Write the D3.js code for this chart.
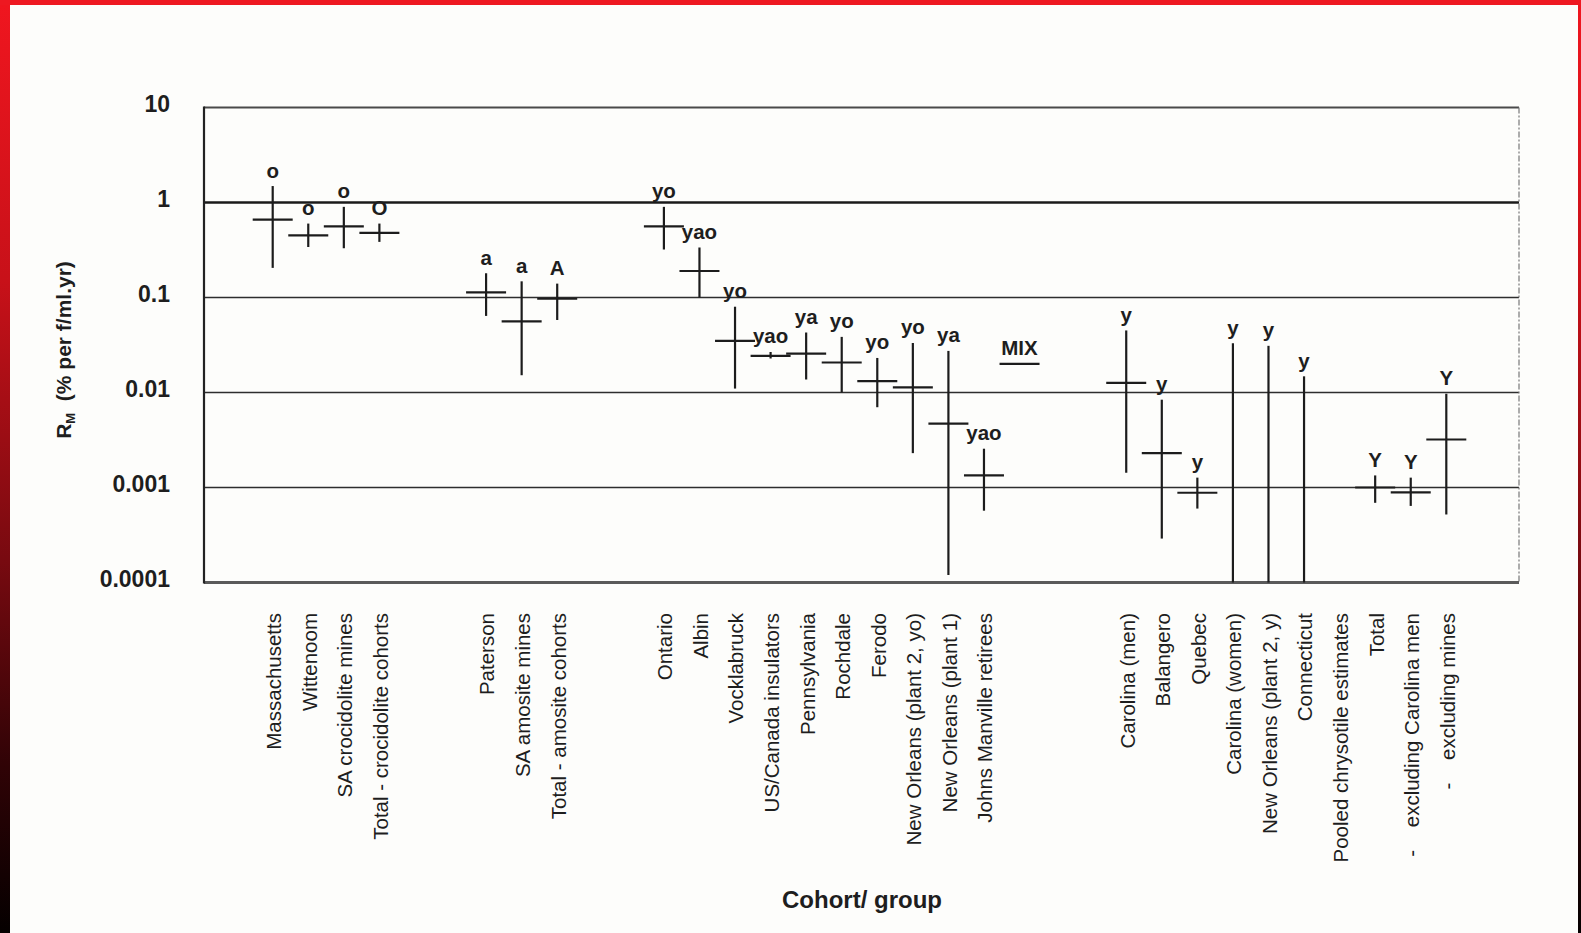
<!DOCTYPE html>
<html>
<head>
<meta charset="utf-8">
<script src="https://cdn.jsdelivr.net/npm/d3@7"></script>
<style>
  html, body { margin: 0; padding: 0; background: #fdfdfb; }
  svg { display: block; }
  text { font-family: "Liberation Sans", Arial, Helvetica, sans-serif; fill: #1e1e1e; }
</style>
</head>
<body>
<svg id="chart" width="1581" height="933"></svg>
<script>
// Cohorts along the x axis; empty strings leave a blank slot between fibre groups
const cohorts = [
  "Massachusetts", "Wittenoom", "SA crocidolite mines", "Total - crocidolite cohorts", "", "",
  "Paterson", "SA amosite mines", "Total - amosite cohorts", "", "",
  "Ontario", "Albin", "Vocklabruck", "US/Canada insulators", "Pennsylvania", "Rochdale",
  "Ferodo", "New Orleans (plant 2, yo)", "New Orleans (plant 1)", "Johns Manville retirees", "", "", "",
  "Carolina (men)", "Balangero", "Quebec", "Carolina (women)", "New Orleans (plant 2, y)",
  "Connecticut", "Pooled chrysotile estimates", "Total", "-    excluding Carolina men", "-    excluding mines"
];

// R_M point estimates (% per f/ml.yr)
const estimate = [
  0.66, 0.45, 0.56, 0.48, null, null,
  0.113, 0.056, 0.097, null, null,
  0.56, 0.19, 0.035, 0.0243, 0.0257, 0.0207,
  0.0132, 0.0113, 0.0047, 0.00134, 0.02, null, null,
  0.0126, 0.0023, 0.00088, null, null,
  null, null, 0.001, 0.00089, 0.0032
];

// Lower confidence limits (0.0001 = runs down to the axis floor)
const lower = [
  0.205, 0.34, 0.33, 0.385, null, null,
  0.064, 0.0152, 0.058, null, null,
  0.32, 0.10, 0.011, 0.0228, 0.0137, 0.0100,
  0.0070, 0.0023, 0.00012, 0.00057, null, null, null,
  0.00143, 0.00029, 0.0006, 0.0001, 0.0001,
  0.0001, null, 0.00069, 0.00064, 0.00052
];

// Upper confidence limits
const upper = [
  1.49, 0.60, 0.90, 0.60, null, null,
  0.18, 0.148, 0.14, null, null,
  0.90, 0.336, 0.080, 0.0267, 0.0428, 0.0385,
  0.0231, 0.0332, 0.0274, 0.00256, null, null, null,
  0.045, 0.0084, 0.00127, 0.033, 0.031,
  0.0148, null, 0.00134, 0.00127, 0.0097
];

// Fibre-type codes printed above each estimate
const fibreTypes = [
  "o", "o", "o", "O", "", "",
  "a", "a", "A", "", "",
  "yo", "yao", "yo", "yao", "ya", "yo",
  "yo", "yo", "ya", "yao", "MIX", "", "",
  "y", "y", "y", "y", "y",
  "y", "", "Y", "Y", "Y"
];

const yTickValues = [10, 1, 0.1, 0.01, 0.001, 0.0001];
const yTickLabels = ["10", "1", "0.1", "0.01", "0.001", "0.0001"];
const yTitle = ["R", "M", "  (% per f/ml.yr)"];
const xTitle = "Cohort/ group";

// ---- layout ----
const W = 1581, H = 933;
const plot = { left: 204, right: 1519, top: 107.5, bottom: 582.5 };
const ink = "#1c1c1c";

const svg = d3.select("#chart");

// page background and the framed border
const defs = svg.append("defs");
const grad = defs.append("linearGradient")
  .attr("id", "edgeFade").attr("x1", 0).attr("y1", 0).attr("x2", 0).attr("y2", 1);
[[0, "#f0161f"], [0.3, "#c81119"], [0.6, "#780a10"], [0.82, "#300306"], [1, "#050000"]]
  .forEach(([o, c]) => grad.append("stop").attr("offset", o).attr("stop-color", c));

svg.append("rect").attr("width", W).attr("height", H).attr("fill", "#fdfdfb");
svg.append("rect").attr("x", 0).attr("y", 0).attr("width", 10).attr("height", H).attr("fill", "url(#edgeFade)");
svg.append("rect").attr("x", W - 3).attr("y", 0).attr("width", 3).attr("height", H).attr("fill", "url(#edgeFade)");
svg.append("rect").attr("x", 0).attr("y", 0).attr("width", W).attr("height", 5).attr("fill", "#ee1821");

// scales
const y = d3.scaleLog().domain([0.0001, 10]).range([plot.bottom, plot.top]);
const x = d3.scalePoint().domain(d3.range(cohorts.length)).range([272.7, 1446.3]);

// horizontal reference lines at each decade
const g = svg.append("g");
g.selectAll("line.grid")
  .data(yTickValues.filter(v => v > 0.0001 && v < 10))
  .join("line")
  .attr("class", "grid")
  .attr("x1", plot.left).attr("x2", plot.right)
  .attr("y1", d => y(d)).attr("y2", d => y(d))
  .attr("stroke", d => d === 1 ? "#1a1a1a" : "#2e2e2e")
  .attr("stroke-width", d => d === 1 ? 2.4 : 1.3);

// frame
g.append("line").attr("x1", plot.left).attr("x2", plot.right).attr("y1", plot.top).attr("y2", plot.top)
  .attr("stroke", "#4a4a4a").attr("stroke-width", 1.8);
g.append("line").attr("x1", plot.right).attr("x2", plot.right).attr("y1", plot.top).attr("y2", plot.bottom)
  .attr("stroke", "#777").attr("stroke-width", 1.2).attr("stroke-dasharray", "6,2,2,2");
g.append("line").attr("x1", plot.left).attr("x2", plot.right).attr("y1", plot.bottom).attr("y2", plot.bottom)
  .attr("stroke", "#5a5a5a").attr("stroke-width", 2.8);
g.append("line").attr("x1", plot.left).attr("x2", plot.left).attr("y1", plot.top - 1).attr("y2", plot.bottom + 1)
  .attr("stroke", "#222").attr("stroke-width", 2.2);

// y axis tick labels
const yAxis = d3.axisLeft(y)
  .tickValues(yTickValues)
  .tickFormat((d, i) => yTickLabels[i])
  .tickSize(0).tickPadding(0);
const ya = svg.append("g").attr("transform", "translate(170,0)").call(yAxis);
ya.select(".domain").remove();
ya.selectAll("text")
  .attr("dy", "0.16em")
  .style("font-size", "23px").style("font-weight", "bold")
  .style("font-family", "\"Liberation Sans\", Arial, sans-serif")
  .attr("fill", "#1e1e1e");

// y axis title
const yt = svg.append("text")
  .attr("transform", "translate(71,350) rotate(-90)")
  .attr("text-anchor", "middle")
  .style("font-size", "21px").style("font-weight", "bold")
  .style("white-space", "pre");
yt.append("tspan").text(yTitle[0]);
yt.append("tspan").attr("dy", 4).style("font-size", "13px").text(yTitle[1]);
yt.append("tspan").attr("dy", -4).text(yTitle[2]);

// cohort labels, reading upward
svg.append("g").selectAll("text")
  .data(cohorts.map((c, i) => ({ c, i })).filter(d => d.c !== ""))
  .join("text")
  .attr("transform", d => `translate(${x(d.i) + 1},613) rotate(-90)`)
  .attr("text-anchor", "end")
  .attr("dy", "0.36em")
  .style("font-size", "20.5px")
  .style("white-space", "pre")
  .text(d => d.c);

// x axis title
svg.append("text")
  .attr("x", 862).attr("y", 908)
  .attr("text-anchor", "middle")
  .style("font-size", "24px").style("font-weight", "bold")
  .text(xTitle);

// estimates with their confidence ranges
const rows = cohorts.map((c, i) => ({
  i, est: estimate[i], lo: lower[i], hi: upper[i], tag: fibreTypes[i]
}));
const marks = svg.append("g").attr("stroke", ink).attr("stroke-width", 2.2);

marks.selectAll("line.range")
  .data(rows.filter(d => d.lo != null && d.hi != null))
  .join("line")
  .attr("class", "range")
  .attr("x1", d => x(d.i)).attr("x2", d => x(d.i))
  .attr("y1", d => y(d.hi)).attr("y2", d => y(d.lo));

marks.selectAll("line.est")
  .data(rows.filter(d => d.est != null))
  .join("line")
  .attr("class", "est")
  .attr("x1", d => x(d.i) - 20).attr("x2", d => x(d.i) + 20)
  .attr("y1", d => y(d.est)).attr("y2", d => y(d.est));

// fibre-type codes above each mark
svg.append("g").selectAll("text")
  .data(rows.filter(d => d.tag !== ""))
  .join("text")
  .attr("x", d => x(d.i))
  .attr("y", d => (d.hi != null ? y(d.hi) : y(d.est)) - 8.5)
  .attr("text-anchor", "middle")
  .style("font-size", "20.5px").style("font-weight", "bold")
  .text(d => d.tag);
</script>
</body>
</html>
